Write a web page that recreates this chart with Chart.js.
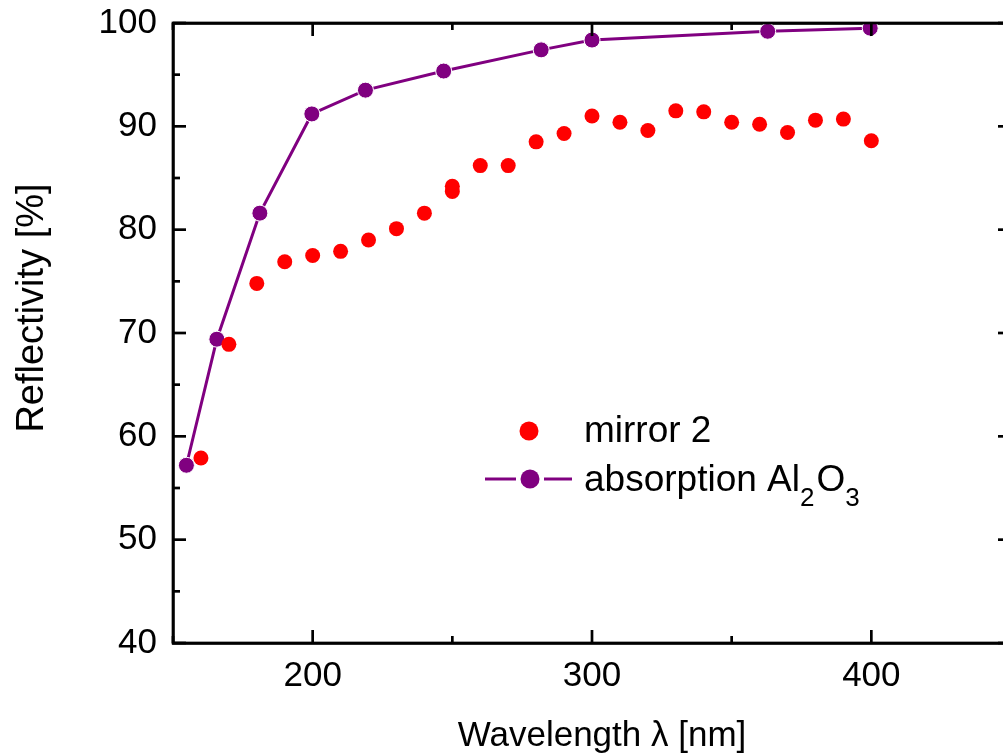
<!DOCTYPE html>
<html>
<head>
<meta charset="utf-8">
<script src="https://cdn.jsdelivr.net/npm/chart.js@4/dist/chart.umd.min.js"></script>
<style>
  html, body { margin: 0; padding: 0; background: #fff; overflow: hidden; }
  #wrap { width: 1020px; height: 754px; }
</style>
</head>
<body>
<div id="wrap"><canvas id="chart" width="1020" height="754"></canvas></div>
<script>
// mirror 2 (measured points)
let mirrorX = [160, 170, 180, 190, 200, 210, 220, 230, 240, 250, 250, 260, 270, 280, 290,
               300, 310, 320, 330, 340, 350, 360, 370, 380, 390, 400];
let mirrorY = [57.9, 68.9, 74.8, 76.9, 77.5, 77.9, 79.0, 80.1, 81.6, 84.2, 83.7, 86.2, 86.2, 88.5, 89.3,
               91.0, 90.4, 89.6, 91.5, 91.4, 90.4, 90.2, 89.4, 90.6, 90.7, 88.6];

// absorption Al2O3
let absX = [154.8, 165.7, 181.1, 199.7, 218.9, 246.9, 281.8, 300.0, 362.9, 399.6];
let absY = [57.2, 69.4, 81.6, 91.2, 93.5, 95.35, 97.4, 98.35, 99.2, 99.5];

let xMajor = [200, 300, 400];
let xMinor = [150, 250, 350, 450];
let yMajor = [40, 50, 60, 70, 80, 90, 100];
let yMinor = [45, 55, 65, 75, 85, 95];

const FONT = '"Liberation Sans", Arial, sans-serif';
const RED = '#ff0000';
const PURPLE = '#800080';

function toPoints(xs, ys) {
    return xs.map((x, i) => ({ x: x, y: ys[i] }));
}

function line(ctx, x1, y1, x2, y2) {
    ctx.beginPath();
    ctx.moveTo(x1, y1);
    ctx.lineTo(x2, y2);
    ctx.stroke();
}

// inward ticks on all four sides + frame
let frameTicks = {
    id: 'frameTicks',
    afterDatasetsDraw(chart) {
        let { ctx, chartArea: a, scales: { x, y } } = chart;
        ctx.save();
        ctx.strokeStyle = '#000';
        ctx.lineWidth = 2.7;
        xMajor.forEach(v => {
            let px = x.getPixelForValue(v);
            line(ctx, px, a.bottom, px, a.bottom - 13);
            line(ctx, px, a.top, px, a.top + 13);
        });
        xMinor.forEach(v => {
            let px = x.getPixelForValue(v);
            line(ctx, px, a.bottom, px, a.bottom - 7);
            line(ctx, px, a.top, px, a.top + 7);
        });
        yMajor.forEach(v => {
            let py = y.getPixelForValue(v);
            line(ctx, a.left, py, a.left + 13, py);
            line(ctx, a.right, py, a.right - 13, py);
        });
        yMinor.forEach(v => {
            let py = y.getPixelForValue(v);
            line(ctx, a.left, py, a.left + 7, py);
            line(ctx, a.right, py, a.right - 7, py);
        });
        ctx.strokeRect(a.left, a.top, a.right - a.left, a.bottom - a.top);
        ctx.restore();
    }
};

// axis titles and legend with subscripts
let labels = {
    id: 'labels',
    afterDraw(chart) {
        let ctx = chart.ctx;
        ctx.save();
        ctx.fillStyle = '#000';
        ctx.font = '35px ' + FONT;
        ctx.textAlign = 'center';
        ctx.textBaseline = 'middle';
        ctx.fillText('Wavelength \u03bb [nm]', 602, 736);

        ctx.save();
        ctx.translate(33, 308);
        ctx.rotate(-Math.PI / 2);
        ctx.font = '38px ' + FONT;
        ctx.fillText('Reflectivity [%]', 0, 0);
        ctx.restore();

        // legend
        ctx.beginPath();
        ctx.fillStyle = RED;
        ctx.arc(529, 431, 9.5, 0, Math.PI * 2);
        ctx.fill();

        ctx.strokeStyle = PURPLE;
        ctx.lineWidth = 3;
        line(ctx, 485, 479, 516, 479);
        line(ctx, 544, 479, 572, 479);
        ctx.beginPath();
        ctx.fillStyle = PURPLE;
        ctx.arc(530, 479, 9.5, 0, Math.PI * 2);
        ctx.fill();

        ctx.fillStyle = '#000';
        ctx.textAlign = 'left';
        ctx.textBaseline = 'alphabetic';
        ctx.font = '37px ' + FONT;
        ctx.fillText('mirror 2', 584, 442);

        let xPos = 584;
        let base = 491;
        let parts = [['absorption Al', 0], ['2', 1], ['O', 0], ['3', 1]];
        parts.forEach(([t, sub]) => {
            ctx.font = (sub ? '26px ' : '37px ') + FONT;
            ctx.fillText(t, xPos, base + (sub ? 15 : 0));
            xPos += ctx.measureText(t).width + (sub ? 2 : 0);
        });
        ctx.restore();
    }
};

let tickFont = { family: FONT, size: 35 };

new Chart(document.getElementById('chart'), {
    type: 'scatter',
    data: {
        datasets: [
            {
                label: 'mirror 2',
                data: toPoints(mirrorX, mirrorY),
                showLine: false,
                pointRadius: 7.5,
                pointHoverRadius: 7.5,
                backgroundColor: RED,
                borderColor: RED,
                pointBorderWidth: 0
            },
            {
                label: 'absorption Al2O3',
                data: toPoints(absX, absY),
                showLine: true,
                borderColor: PURPLE,
                borderWidth: 3,
                pointRadius: 8,
                pointHoverRadius: 8,
                pointBackgroundColor: PURPLE,
                pointBorderColor: '#fff',
                pointBorderWidth: 1
            }
        ]
    },
    options: {
        responsive: false,
        animation: false,
        events: [],
        layout: { padding: { top: 23, right: 7, left: 0, bottom: 0 } },
        plugins: { legend: { display: false }, tooltip: { enabled: false } },
        scales: {
            x: {
                type: 'linear', position: 'bottom', min: 150, max: 450,
                afterBuildTicks: s => { s.ticks = xMajor.map(v => ({ value: v })); },
                afterFit: s => { s.height = 111; s.paddingLeft = 0; s.paddingRight = 0; },
                grid: { display: false, drawTicks: false },
                border: { display: true, color: '#000', width: 2.7 },
                ticks: { font: tickFont, color: '#000', padding: 12, maxRotation: 0 }
            },
            y: {
                type: 'linear', position: 'left', min: 40, max: 100,
                afterBuildTicks: s => { s.ticks = yMajor.map(v => ({ value: v })); },
                afterFit: s => { s.width = 173; s.paddingTop = 0; s.paddingBottom = 0; },
                grid: { display: false, drawTicks: false },
                border: { display: true, color: '#000', width: 2.7 },
                ticks: { font: tickFont, color: '#000', padding: 16 }
            },
            x2: {
                type: 'linear', position: 'top', min: 150, max: 450,
                afterFit: s => { s.height = 0; s.paddingLeft = 0; s.paddingRight = 0; },
                grid: { display: false, drawTicks: false },
                border: { display: true, color: '#000', width: 2.7 },
                ticks: { display: false }
            },
            y2: {
                type: 'linear', position: 'right', min: 40, max: 100,
                afterFit: s => { s.width = 0; s.paddingTop = 0; s.paddingBottom = 0; },
                grid: { display: false, drawTicks: false },
                border: { display: true, color: '#000', width: 2.7 },
                ticks: { display: false }
            }
        }
    },
    plugins: [frameTicks, labels]
});
</script>
</body>
</html>
